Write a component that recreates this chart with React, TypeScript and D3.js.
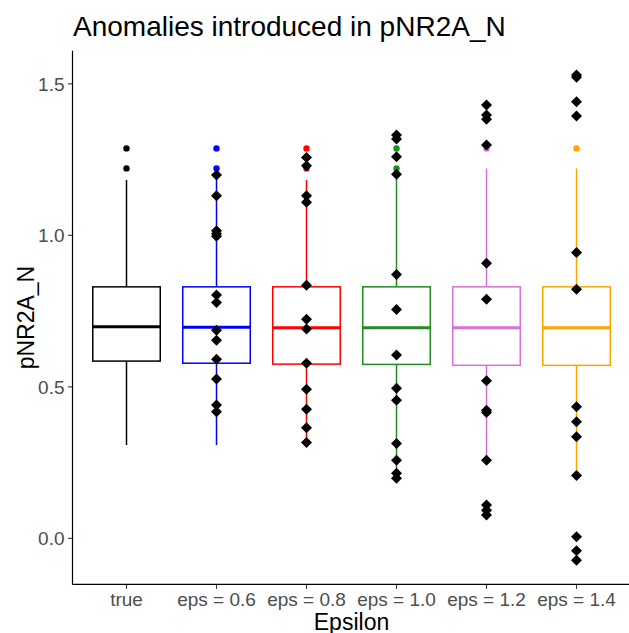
import React from "react";
import * as d3 from "d3";

const width = 629;
const height = 633;

const categories = ["true", "eps = 0.6", "eps = 0.8", "eps = 1.0", "eps = 1.2", "eps = 1.4"];
const colors = ["black", "blue", "red", "forestgreen", "orchid", "orange"];

// box statistics
const lowerWhisker = [0.308, 0.308, 0.316, 0.198, 0.258, 0.207];
const q1 = [0.585, 0.578, 0.575, 0.574, 0.571, 0.571];
const median = [0.698, 0.697, 0.695, 0.695, 0.695, 0.695];
const q3 = [0.83, 0.83, 0.83, 0.83, 0.83, 0.83];
const upperWhisker = [1.183, 1.199, 1.183, 1.202, 1.221, 1.221];

// outlier dots per category
const outliers = [
  [1.287, 1.221],
  [1.287, 1.221],
  [1.287, 1.221],
  [1.287, 1.221],
  [1.287],
  [1.287],
];

// introduced anomalies (black diamonds)
const anomalies = [
  [],
  [1.199, 1.131, 1.015, 1.005, 0.997, 0.803, 0.778, 0.687, 0.654, 0.591, 0.526, 0.44, 0.418],
  [1.257, 1.23, 1.131, 1.109, 0.835, 0.723, 0.691, 0.578, 0.492, 0.426, 0.365, 0.316],
  [1.331, 1.318, 1.259, 1.202, 0.871, 0.755, 0.605, 0.495, 0.456, 0.313, 0.258, 0.215, 0.198],
  [1.43, 1.397, 1.383, 1.298, 0.908, 0.789, 0.52, 0.423, 0.415, 0.258, 0.11, 0.093, 0.077],
  [1.529, 1.522, 1.441, 1.394, 0.943, 0.822, 0.434, 0.385, 0.335, 0.207, 0.005, -0.041, -0.072],
];

const yTicks = [0, 0.5, 1.0, 1.5];

const marginLeft = 72.5;
const marginTop = 50.8;
const plotRight = 630.5;
const plotBottom = 584.4;

const App = () => {
  const all = [
    ...lowerWhisker,
    ...upperWhisker,
    ...outliers.flat(),
    ...anomalies.flat(),
  ];
  const [lo, hi] = d3.extent(all) as [number, number];
  const pad = (hi - lo) * 0.05;

  const x = d3.scalePoint<string>()
    .domain(categories)
    .range([marginLeft, plotRight])
    .padding(0.6);

  const y = d3.scaleLinear()
    .domain([lo - pad, hi + pad])
    .range([plotBottom, marginTop]);

  const boxW = x.step() * 0.75;
  const font = "'Liberation Sans', Arial, sans-serif";
  const diamond = "M0,-5.5L5.5,0L0,5.5L-5.5,0Z";

  return (
    <svg width={width} height={height} style={{ position: "absolute", left: 0, top: 0, background: "white" }} fontFamily={font}>
      {/* boxes */}
      {categories.map((c, i) => {
        const cx = x(c)!;
        return (
          <g key={c} stroke={colors[i]} fill="none">
            <line x1={cx} x2={cx} y1={y(q3[i])} y2={y(upperWhisker[i])} strokeWidth={1.5} />
            <line x1={cx} x2={cx} y1={y(q1[i])} y2={y(lowerWhisker[i])} strokeWidth={1.5} />
            <rect x={cx - boxW / 2} y={y(q3[i])} width={boxW} height={y(q1[i]) - y(q3[i])} fill="white" strokeWidth={1.5} />
            <line x1={cx - boxW / 2} x2={cx + boxW / 2} y1={y(median[i])} y2={y(median[i])} strokeWidth={3} />
            {outliers[i].map((v, j) => (
              <circle key={j} cx={cx} cy={y(v)} r={3.2} fill={colors[i]} stroke="none" />
            ))}
          </g>
        );
      })}

      {/* anomalies */}
      {categories.map((c, i) =>
        anomalies[i].map((v, j) => (
          <path key={c + j} d={diamond} transform={`translate(${x(c)},${y(v)})`} fill="black" />
        ))
      )}

      {/* y axis */}
      <line x1={marginLeft} x2={marginLeft} y1={marginTop} y2={plotBottom} stroke="black" strokeWidth={1.2} />
      {yTicks.map((t) => (
        <g key={t} transform={`translate(0,${y(t)})`}>
          <line x1={marginLeft - 4.5} x2={marginLeft} stroke="#333" strokeWidth={1.1} />
          <text x={marginLeft - 8} dy="0.36em" textAnchor="end" fontSize={19} fill="#4d4d4d">
            {t.toFixed(1)}
          </text>
        </g>
      ))}

      {/* x axis */}
      <line x1={marginLeft} x2={plotRight} y1={plotBottom} y2={plotBottom} stroke="black" strokeWidth={1.2} />
      {categories.map((c) => (
        <g key={c} transform={`translate(${x(c)},0)`}>
          <line y1={plotBottom} y2={plotBottom + 4.5} stroke="#333" strokeWidth={1.1} />
          <text y={605.5} textAnchor="middle" fontSize={19} fill="#4d4d4d">
            {c}
          </text>
        </g>
      ))}

      {/* titles */}
      <text x={(marginLeft + plotRight) / 2} y={629.5} textAnchor="middle" fontSize={23} fill="black">
        Epsilon
      </text>
      <text transform={`translate(33.5,${(marginTop + plotBottom) / 2}) rotate(-90)`} textAnchor="middle" fontSize={23} fill="black">
        pNR2A_N
      </text>
      <text x={73} y={36} fontSize={28} fill="black">
        Anomalies introduced in pNR2A_N
      </text>
    </svg>
  );
};

export default App;
